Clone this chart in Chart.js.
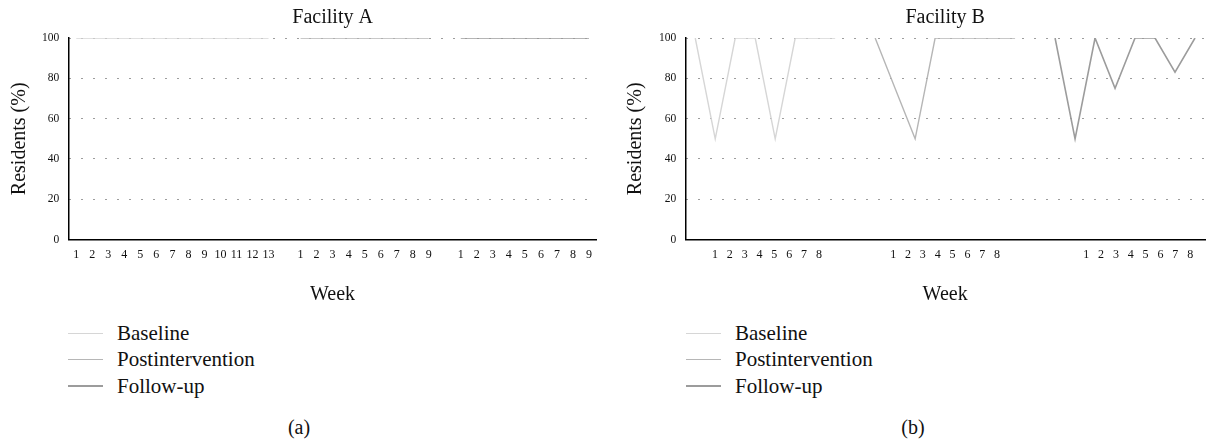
<!DOCTYPE html>
<html lang="en">

<head>
    <meta charset="UTF-8">
    <title>Residents (%) per week - Facility A / Facility B</title>
    <script src="https://cdn.jsdelivr.net/npm/chart.js"></script>

    <style>
        body {
            margin: 0;
            background-color: #fff;
            color: #111;
            font-family: "Liberation Serif", serif;
        }

        #page {
            position: relative;
            width: 1213px;
            height: 440px;
            overflow: hidden;
        }

        .panel {
            position: absolute;
            top: 0;
        }

        .legend {
            position: absolute;
            top: 320px;
            font-size: 21px;
        }

        .legend .row {
            height: 26.5px;
            display: flex;
            align-items: center;
        }

        .legend .swatch {
            display: inline-block;
            width: 35px;
            margin-right: 14px;
        }

        .caption {
            position: absolute;
            top: 413px;
            width: 100px;
            line-height: 28px;
            text-align: center;
            font-size: 20px;
        }
    </style>
</head>

<body>
    <div id="page">
        <canvas id="chartA" class="panel" width="600" height="310" style="left:0"></canvas>
        <canvas id="chartB" class="panel" width="613" height="310" style="left:600px"></canvas>

        <div id="legendA" class="legend" style="left:68px"></div>
        <div id="legendB" class="legend" style="left:686px"></div>

        <div class="caption" style="left:249px">(a)</div>
        <div class="caption" style="left:863px">(b)</div>
    </div>

    <script>
        // --- data ---
        const seriesNames = ['Baseline', 'Postintervention', 'Follow-up'];
        const seriesColors = ['#d6d6d6', '#b6b6b6', '#9c9c9c'];

        // Facility A: week labels per phase
        const weeksA_base = ['1', '2', '3', '4', '5', '6', '7', '8', '9', '10', '11', '12', '13'];
        const weeksA_post = ['1', '2', '3', '4', '5', '6', '7', '8', '9'];
        const weeksA_follow = ['1', '2', '3', '4', '5', '6', '7', '8', '9'];

        const baselineA = [100, 100, 100, 100, 100, 100, 100, 100, 100, 100, 100, 100, 100];
        const postA = [100, 100, 100, 100, 100, 100, 100, 100, 100];
        const followA = [100, 100, 100, 100, 100, 100, 100, 100, 100];

        // Facility B: 8 weeks per phase
        const weeksB = ['1', '2', '3', '4', '5', '6', '7', '8'];

        const baselineB = [100, 50, 100, 100, 50, 100, 100, 100];
        const postB = [100, 75, 50, 100, 100, 100, 100, 100];
        const followB = [100, 50, 100, 75, 100, 100, 83, 100];

        const yTicks = [0, 20, 40, 60, 80, 100];

        // --- helpers ---
        const FONT = '"Liberation Serif", serif';

        // one blank slot between phases, a series only fills its own phase
        function phaseSeries(groups, idx) {
            let out = [];
            groups.forEach((g, i) => {
                if (i > 0) out.push(null);
                g.forEach(v => out.push(i === idx ? v : null));
            });
            return out;
        }

        function phaseLabels(groups) {
            let out = [];
            groups.forEach((g, i) => {
                if (i > 0) out.push('');
                out = out.concat(g);
            });
            return out;
        }

        // tick label row of Facility B sits on its own spacing (not under the points)
        function spacedLabels(weeks, gaps) {
            let out = [];
            gaps.forEach((n, i) => {
                for (let k = 0; k < n; k++) out.push('');
                if (i < gaps.length - 1) out = out.concat(weeks);
            });
            return out;
        }

        function makeDatasets(groups) {
            return seriesNames.map((name, i) => ({
                label: name,
                data: phaseSeries(groups, i),
                borderColor: seriesColors[i],
                borderWidth: i === 2 ? 1.6 : 1.4,
                pointRadius: 0,
                tension: 0,
                spanGaps: false
            }));
        }

        function yScale(titlePad) {
            return {
                min: 0,
                max: 100,
                afterBuildTicks: axis => { axis.ticks = yTicks.map(v => ({ value: v })); },
                ticks: { color: '#111', padding: 9, font: { family: FONT, size: 11.5 } },
                grid: {
                    drawTicks: false,
                    lineWidth: 1,
                    color: c => c.tick && c.tick.value === 0 ? 'rgba(0,0,0,0)' : '#3a3a3a'
                },
                border: { display: true, color: '#000', width: 1.5, dash: [1, 11] },
                title: {
                    display: true,
                    text: 'Residents (%)',
                    color: '#111',
                    font: { family: FONT, size: 20 },
                    padding: titlePad
                }
            };
        }

        function weekTitle() {
            return {
                display: true,
                text: 'Week',
                color: '#111',
                font: { family: FONT, size: 20 },
                padding: { top: 13, bottom: 3 }
            };
        }

        function baseOptions(title, scales, padLeft, padRight) {
            return {
                responsive: false,
                animation: false,
                layout: { padding: { left: padLeft, right: padRight, top: 0, bottom: 0 } },
                plugins: {
                    legend: { display: false },
                    tooltip: { enabled: false },
                    title: {
                        display: true,
                        text: title,
                        color: '#111',
                        fullSize: false,
                        font: { family: FONT, size: 20, weight: 'normal' },
                        padding: { top: 6, bottom: 8 }
                    }
                },
                scales: scales
            };
        }

        // --- Facility A ---
        const groupsA = [baselineA, postA, followA];
        new Chart(document.getElementById('chartA'), {
            type: 'line',
            data: {
                labels: phaseLabels([weeksA_base, weeksA_post, weeksA_follow]),
                datasets: makeDatasets(groupsA)
            },
            options: baseOptions('Facility A', {
                x: {
                    type: 'category',
                    offset: true,
                    grid: { display: false, drawTicks: false },
                    border: { display: true, color: '#000', width: 1.5 },
                    ticks: {
                        autoSkip: false, maxRotation: 0, minRotation: 0, padding: 8,
                        color: '#111', font: { family: FONT, size: 12 }
                    },
                    title: weekTitle()
                },
                y: yScale({ top: 8, bottom: 1 })
            }, 0, 3)
        });

        // --- Facility B ---
        const groupsB = [baselineB, postB, followB];
        new Chart(document.getElementById('chartB'), {
            type: 'line',
            data: {
                labels: phaseLabels([weeksB, weeksB, weeksB]),
                datasets: makeDatasets(groupsB)
            },
            options: baseOptions('Facility B', {
                x: {
                    type: 'category',
                    offset: true,
                    grid: { display: false, drawTicks: false },
                    border: { display: true, color: '#000', width: 1.5 },
                    ticks: { display: false }
                },
                xl: {
                    type: 'category',
                    position: 'bottom',
                    labels: spacedLabels(weeksB, [2, 4, 5, 1]),
                    offset: false,
                    grid: { display: false, drawTicks: false },
                    border: { display: false },
                    ticks: {
                        autoSkip: false, maxRotation: 0, minRotation: 0, padding: 8,
                        color: '#111', font: { family: FONT, size: 12 }
                    },
                    title: weekTitle()
                },
                y: yScale({ top: 8, bottom: 2 })
            }, 16, 0)
        });

        // --- legends (html, same colours as the series) ---
        ['legendA', 'legendB'].forEach(id => {
            const box = document.getElementById(id);
            seriesNames.forEach((name, i) => {
                const row = document.createElement('div');
                row.className = 'row';
                const sw = document.createElement('span');
                sw.className = 'swatch';
                sw.style.borderTop = (i === 2 ? 2 : 1.5) + 'px solid ' + seriesColors[i];
                row.appendChild(sw);
                row.appendChild(document.createTextNode(name));
                box.appendChild(row);
            });
        });
    </script>
</body>

</html>
